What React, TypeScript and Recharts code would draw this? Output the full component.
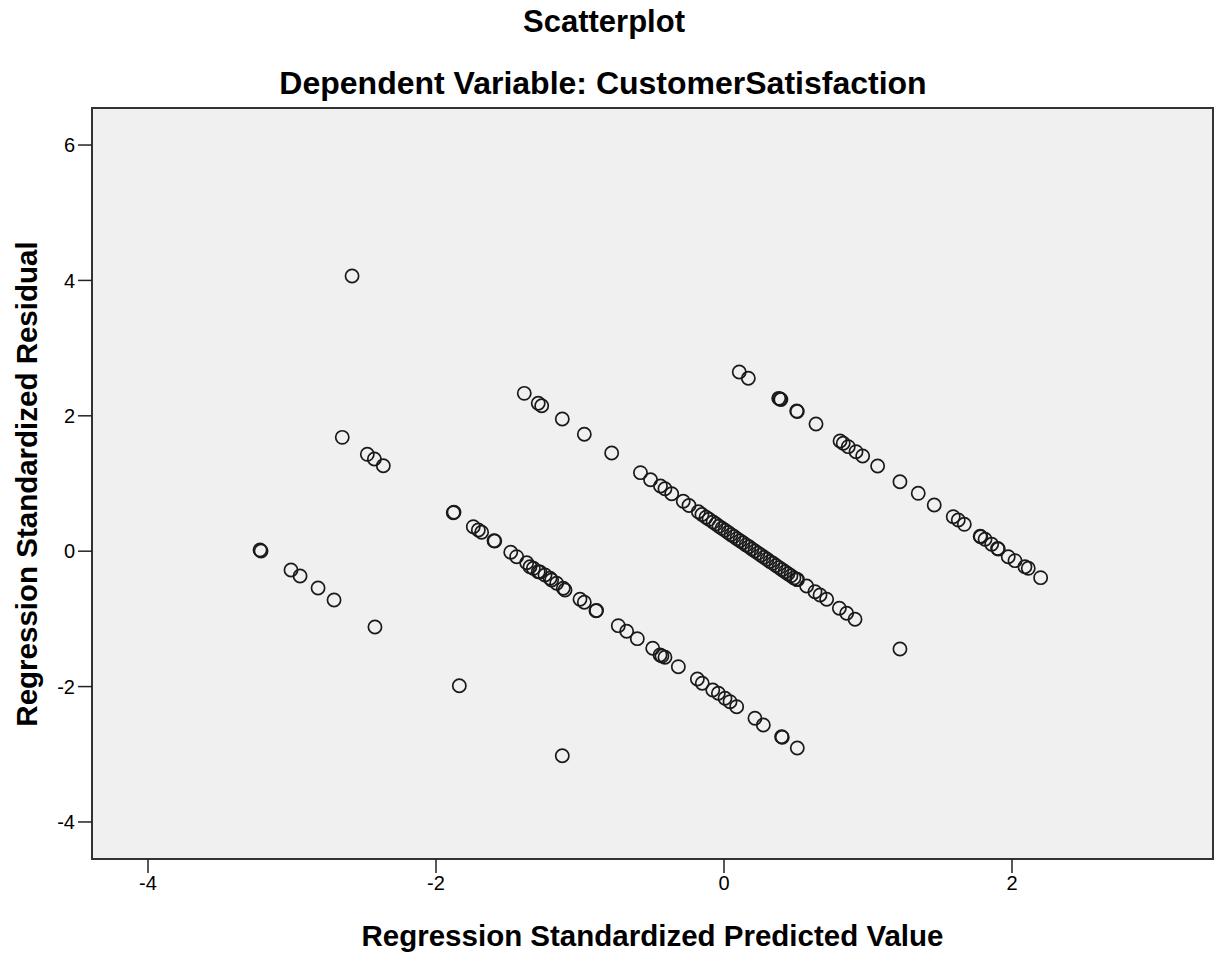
import React from 'react';
import { ScatterChart, Scatter, XAxis, YAxis, ReferenceArea } from 'recharts';

// Regression Standardized Predicted Value (x) vs Regression Standardized Residual (y)
const outlierPoints: [number, number][] = [
  [-2.583, 4.065], [-3.222, 0.018], [-3.215, 0.003], [-3.007, -0.278], [-2.944, -0.366],
  [-2.819, -0.544], [-2.708, -0.721], [-2.424, -1.12], [-2.651, 1.682], [-2.477, 1.431],
  [-2.428, 1.362], [-2.366, 1.263], [-1.838, -1.987], [-1.123, -3.021], [1.222, -1.445],
];

const lowerBandPoints: [number, number][] = [
  [-1.88, 0.569], [-1.875, 0.575], [-1.741, 0.362], [-1.706, 0.313], [-1.683, 0.279],
  [-1.597, 0.155], [-1.592, 0.15], [-1.481, -0.016], [-1.44, -0.081], [-1.37, -0.17],
  [-1.347, -0.229], [-1.324, -0.253], [-1.29, -0.303], [-1.278, -0.307], [-1.243, -0.352],
  [-1.208, -0.4], [-1.197, -0.425], [-1.162, -0.474], [-1.116, -0.548], [-1.104, -0.573],
  [-1.0, -0.71], [-0.97, -0.755], [-0.889, -0.879], [-0.885, -0.875], [-0.734, -1.1],
  [-0.676, -1.183], [-0.602, -1.292], [-0.495, -1.434], [-0.444, -1.533], [-0.431, -1.548],
  [-0.41, -1.567], [-0.317, -1.706], [-0.185, -1.888], [-0.151, -1.951], [-0.078, -2.05],
  [-0.039, -2.099], [0.007, -2.173], [0.042, -2.223], [0.088, -2.297], [0.215, -2.468],
  [0.273, -2.567], [0.405, -2.749], [0.4, -2.74], [0.509, -2.907],
];

const middleBandPoints: [number, number][] = [
  [-1.387, 2.332], [-1.29, 2.185], [-1.266, 2.149], [-1.123, 1.953], [-0.97, 1.727],
  [-0.78, 1.451], [-0.58, 1.16], [-0.51, 1.056], [-0.441, 0.963], [-0.41, 0.923],
  [-0.363, 0.848], [-0.283, 0.737], [-0.243, 0.675], [-0.178, 0.583], [-0.153, 0.542],
  [-0.125, 0.502], [-0.104, 0.471], [-0.076, 0.431], [-0.056, 0.402], [-0.035, 0.369],
  [-0.014, 0.338], [0.007, 0.31], [0.028, 0.278], [0.049, 0.245], [0.069, 0.217],
  [0.09, 0.185], [0.111, 0.154], [0.132, 0.124], [0.153, 0.093], [0.174, 0.065],
  [0.194, 0.032], [0.215, 0.003], [0.236, -0.028], [0.257, -0.058], [0.278, -0.09],
  [0.299, -0.118], [0.319, -0.151], [0.34, -0.179], [0.361, -0.211], [0.382, -0.242],
  [0.403, -0.272], [0.424, -0.303], [0.444, -0.334], [0.465, -0.363], [0.486, -0.394],
  [0.505, -0.415], [0.51, -0.42], [0.574, -0.514], [0.632, -0.598], [0.667, -0.647],
  [0.713, -0.71], [0.801, -0.843], [0.852, -0.917], [0.91, -1.006],
];

const upperBandPoints: [number, number][] = [
  [0.106, 2.647], [0.169, 2.554], [0.389, 2.248], [0.38, 2.258], [0.395, 2.24],
  [0.509, 2.064], [0.505, 2.07], [0.639, 1.879], [0.806, 1.628], [0.828, 1.594],
  [0.863, 1.544], [0.917, 1.47], [0.963, 1.406], [1.067, 1.258], [1.222, 1.026],
  [1.349, 0.855], [1.46, 0.682], [1.592, 0.51], [1.627, 0.461], [1.669, 0.397],
  [1.783, 0.214], [1.779, 0.22], [1.813, 0.176], [1.859, 0.102], [1.905, 0.032],
  [1.9, 0.04], [1.974, -0.081], [2.021, -0.14], [2.09, -0.229], [2.113, -0.253],
  [2.199, -0.391],
];

const xTicks = [-4, -2, 0, 2];
const yTicks = [-4, -2, 0, 2, 4, 6];
const X_DOMAIN: [number, number] = [-4.389, 3.396];
const Y_DOMAIN: [number, number] = [-4.547, 6.547];

const chartTitle = 'Scatterplot';
const chartSubtitle = 'Dependent Variable: CustomerSatisfaction';
const xTitle = 'Regression Standardized Predicted Value';
const yTitle = 'Regression Standardized Residual';

const allPoints = [...outlierPoints, ...lowerBandPoints, ...middleBandPoints, ...upperBandPoints].map(
  ([x, y]) => ({ x, y })
);

const FONT = '"Liberation Sans", Arial, sans-serif';

const RingShape = (props: any) => {
  const { cx, cy } = props;
  if (cx == null || cy == null) return null;
  return <circle cx={cx} cy={cy} r={6.6} fill="none" stroke="#1a1a1a" strokeWidth={1.7} />;
};

export default function App() {
  return (
    <div
      style={{
        position: 'absolute',
        left: 0,
        top: 0,
        width: 1217,
        height: 955,
        background: '#ffffff',
        fontFamily: FONT,
      }}
    >
      <div
        style={{
          position: 'absolute',
          left: 0,
          width: 1208,
          top: 4,
          textAlign: 'center',
          fontSize: 31,
          fontWeight: 'bold',
          lineHeight: '36px',
          color: '#000',
        }}
      >
        {chartTitle}
      </div>
      <div
        style={{
          position: 'absolute',
          left: 0,
          width: 1206,
          top: 65,
          textAlign: 'center',
          fontSize: 32,
          fontWeight: 'bold',
          lineHeight: '36px',
          color: '#000',
        }}
      >
        {chartSubtitle}
      </div>
      <ScatterChart
        width={1217}
        height={955}
        margin={{ top: 108, right: 4, bottom: 56, left: 32 }}
      >
        <XAxis
          type="number"
          dataKey="x"
          domain={X_DOMAIN}
          allowDataOverflow
          ticks={xTicks}
          height={40}
          tickSize={14}
          tickMargin={3}
          axisLine={{ stroke: '#333', strokeWidth: 2 }}
          tickLine={{ stroke: '#222', strokeWidth: 1.5 }}
          tick={{ fill: '#000', fontSize: 20, fontFamily: FONT }}
        />
        <YAxis
          type="number"
          dataKey="y"
          domain={Y_DOMAIN}
          allowDataOverflow
          ticks={yTicks}
          width={60}
          tickSize={14}
          tickMargin={3}
          axisLine={{ stroke: '#333', strokeWidth: 2 }}
          tickLine={{ stroke: '#222', strokeWidth: 1.5 }}
          tick={{ fill: '#000', fontSize: 20, fontFamily: FONT }}
        />
        <ReferenceArea
          x1={X_DOMAIN[0]}
          x2={X_DOMAIN[1]}
          y1={Y_DOMAIN[0]}
          y2={Y_DOMAIN[1]}
          fill="#f0f0f0"
          fillOpacity={1}
          stroke="#333"
          strokeWidth={2}
          ifOverflow="visible"
        />
        <Scatter data={allPoints} shape={RingShape} isAnimationActive={false} />
      </ScatterChart>
      <div
        style={{
          position: 'absolute',
          left: 92,
          width: 1121,
          top: 918,
          textAlign: 'center',
          fontSize: 29.5,
          fontWeight: 'bold',
          lineHeight: '36px',
          color: '#000',
        }}
      >
        {xTitle}
      </div>
      <div
        style={{
          position: 'absolute',
          left: 27 - 300,
          top: 484 - 18,
          width: 600,
          textAlign: 'center',
          fontSize: 29.5,
          fontWeight: 'bold',
          lineHeight: '36px',
          color: '#000',
          transform: 'rotate(-90deg)',
          transformOrigin: '50% 50%',
        }}
      >
        {yTitle}
      </div>
    </div>
  );
}
